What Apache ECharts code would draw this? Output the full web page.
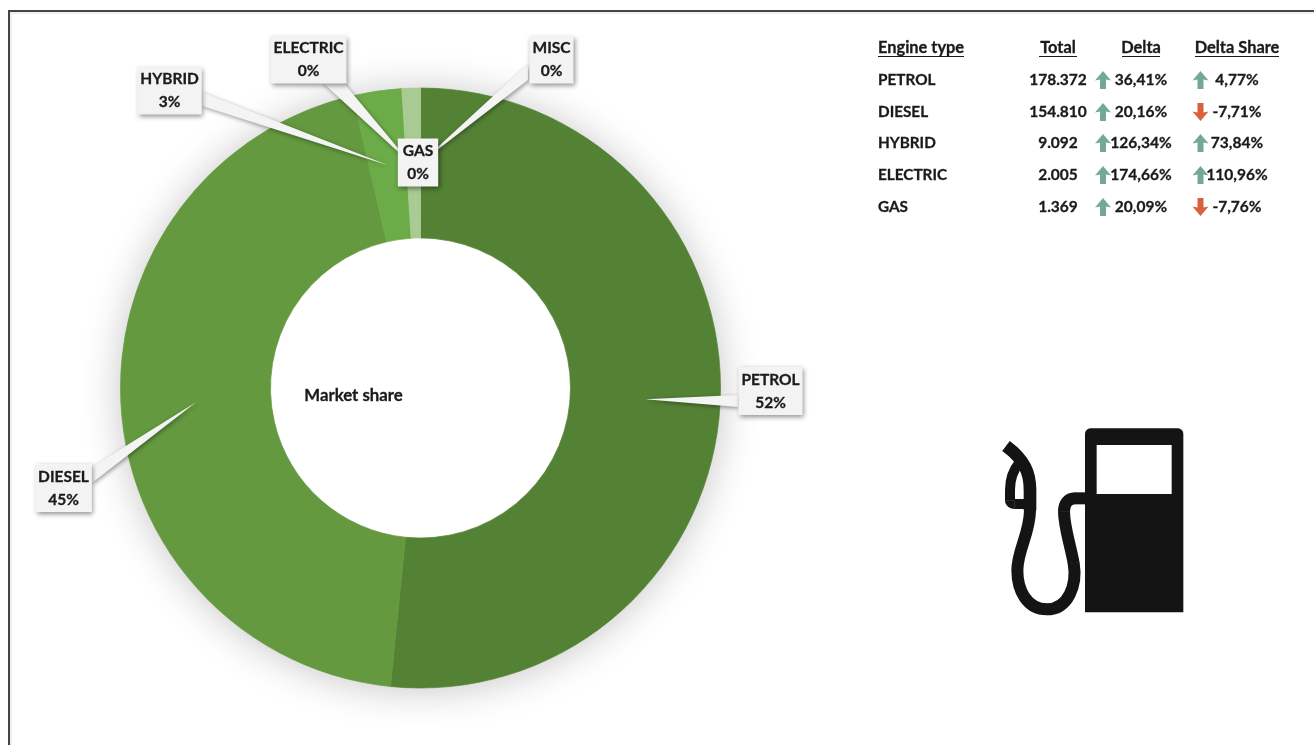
<!DOCTYPE html>
<html>
<head>
<meta charset="utf-8">
<style>html,body{margin:0;padding:0;background:#fff}#c{width:1314px;height:745px}</style>
<script src="https://cdn.jsdelivr.net/npm/echarts@6/dist/echarts.min.js"></script>
</head>
<body>
<div id="c"></div>
<script>
// ---- data ----
var sliceNames = ['PETROL', 'DIESEL', 'HYBRID', 'ELECTRIC', 'GAS', 'MISC'];
var sliceValues = [178372, 154810, 9092, 2005, 1369, 60];
var tableHeaders = ['Engine type', 'Total', 'Delta', 'Delta Share'];
var tableNames = ['PETROL', 'DIESEL', 'HYBRID', 'ELECTRIC', 'GAS'];
var tableTotals = ['178.372', '154.810', '9.092', '2.005', '1.369'];
var tableDelta = ['36,41%', '20,16%', '126,34%', '174,66%', '20,09%'];
var tableDeltaShare = ['4,77%', '-7,71%', '73,84%', '110,96%', '-7,76%'];
var centerTitle = 'Market share';

// ---- style and layout ----
var FONT = 'Lato, "Open Sans", sans-serif';
var TEXT = '#1a1a1a';
var sliceColors = ['#548235', '#64993F', '#6CAC48', '#A9CB93', '#A9CB93', '#A9CB93'];
var CX = 420.5, CY = 388, R = 300, R0 = 150;
var callouts = {
  PETROL:   {x: 770.5, y: 391, pad: 3, base: [[738, 395], [738, 407]]},
  DIESEL:   {x: 63.5,  y: 488, pad: 3, base: [[92, 467], [92, 483]]},
  HYBRID:   {x: 169.5, y: 90.5, pad: 3, base: [[202, 92], [202, 106]]},
  ELECTRIC: {x: 308.5, y: 59.5, pad: 3, base: [[322, 82], [343, 82]]},
  GAS:      {x: 418,   y: 162.5, pad: 5, base: null},
  MISC:     {x: 551.5, y: 59.5, pad: 3, base: [[528, 64], [528, 80]]}
};
var rowY = [80, 112, 143, 175, 207];
var colX = {name: 878, total: 1058, delta: 1141, share: 1237};
var arrowX = {delta: 1103, share: 1200.5};

var sum = sliceValues.reduce(function (a, b) { return a + b; }, 0);
var pieData = sliceNames.map(function (n, i) {
  return {name: n, value: sliceValues[i],
    itemStyle: {color: sliceColors[i], borderColor: sliceColors[i], borderWidth: 0.7}};
});
var labelData = sliceNames.map(function (n, i) {
  var p = callouts[n].pad;
  return {name: n, value: sliceValues[i], label: {padding: [1, p, 1, p]}};
});

function arrowPath(cx, cy, up) {
  var s = up ? 1 : -1;
  var pts = [[0, -9], [8, 0.5], [3, -0.5], [3, 9], [-3, 9], [-3, -0.5], [-8, 0.5]];
  return pts.map(function (p) { return [cx + p[0], cy + s * p[1]]; });
}

var graphics = [];
graphics.push({type: 'rect', z: 0, silent: true,
  shape: {x: 9, y: 11, width: 1400, height: 900},
  style: {fill: '#fff', stroke: '#444', lineWidth: 2}});
graphics.push({type: 'line', z: 0, silent: true, shape: {x1: 11, y1: 13, x2: 1314, y2: 13},
  style: {stroke: 'rgba(0,0,0,0.06)', lineWidth: 2}});
graphics.push({type: 'line', z: 0, silent: true, shape: {x1: 11, y1: 13, x2: 11, y2: 745},
  style: {stroke: 'rgba(0,0,0,0.06)', lineWidth: 2}});
graphics.push({type: 'circle', z: 1, silent: true,
  shape: {cx: CX, cy: CY, r: R - 1},
  style: {fill: '#fff', shadowBlur: 40, shadowColor: 'rgba(0,0,0,0.24)', shadowOffsetX: 0, shadowOffsetY: 2}});

var acc = 0;
sliceNames.forEach(function (n, i) {
  var mid = (acc + sliceValues[i] / 2) / sum * Math.PI * 2;
  acc += sliceValues[i];
  var c = callouts[n];
  if (!c.base) return;
  var rm = (R + R0) / 2;
  var tip = [CX + rm * Math.sin(mid), CY - rm * Math.cos(mid)];
  graphics.push({type: 'polygon', z: 5, silent: true,
    shape: {points: [c.base[0], c.base[1], tip]},
    style: {fill: '#f4f4f4', shadowBlur: 4, shadowColor: 'rgba(0,0,0,0.4)', shadowOffsetX: 1, shadowOffsetY: 1.5}});
});

function cell(text, x, y, align, size) {
  graphics.push({type: 'text', z: 6, x: x, y: y, silent: true,
    style: {text: text, font: 'bold ' + size + 'px ' + FONT, fill: TEXT, align: align, verticalAlign: 'middle',
            stroke: TEXT, lineWidth: 0.3}});
}
cell(centerTitle, 353.5, 396, 'center', 16.8);
var headY = 48;
[[tableHeaders[0], colX.name, 'left', 878, 964], [tableHeaders[1], colX.total, 'center', 1039, 1077],
 [tableHeaders[2], colX.delta, 'center', 1122, 1160], [tableHeaders[3], colX.share, 'center', 1195, 1279]].forEach(function (h) {
  cell(h[0], h[1], headY, h[2], 16.4);
  graphics.push({type: 'line', z: 6, silent: true, shape: {x1: h[3], y1: 56.5, x2: h[4], y2: 56.5},
    style: {stroke: TEXT, lineWidth: 1.2}});
});
tableNames.forEach(function (n, i) {
  var y = rowY[i];
  cell(n, colX.name, y, 'left', 15.3);
  cell(tableTotals[i], colX.total, y, 'center', 15.5);
  cell(tableDelta[i], colX.delta, y, 'center', 15.5);
  cell(tableDeltaShare[i], colX.share, y, 'center', 15.5);
  [[tableDelta[i], arrowX.delta], [tableDeltaShare[i], arrowX.share]].forEach(function (a) {
    var up = a[0].charAt(0) !== '-';
    graphics.push({type: 'polygon', z: 7, silent: true,
      shape: {points: arrowPath(a[1], y, up)},
      style: {fill: up ? '#73A893' : '#D8603B'}});
  });
});

// fuel pump icon, drawn in the 3x units of the crop and placed by the group
var INK = '#141414';
function curve(p) {
  return {type: 'bezierCurve', z: 6, silent: true,
    shape: {x1: p[0], y1: p[1], cpx1: p[2], cpy1: p[3], cpx2: p[4], cpy2: p[5], x2: p[6], y2: p[7]},
    style: {fill: null, stroke: INK, lineWidth: p[8] || 36, lineCap: 'butt'}};
}
graphics.push({type: 'group', z: 6, x: 980, y: 410, scaleX: 1 / 3, scaleY: 1 / 3, silent: true, children: [
  {type: 'rect', z: 6, silent: true, shape: {x: 315, y: 55, width: 295, height: 552, r: [16, 16, 0, 0]}, style: {fill: INK}},
  {type: 'rect', z: 6, silent: true, shape: {x: 350, y: 105, width: 225, height: 147}, style: {fill: '#fff'}},
  {type: 'line', z: 6, silent: true, shape: {x1: 320, y1: 265, x2: 285, y2: 265}, style: {stroke: INK, lineWidth: 36}},
  curve([286, 265, 262, 265, 252, 282, 252, 305]),
  curve([252, 304, 252, 350, 270, 400, 281, 460]),
  curve([281, 459, 292, 525, 265, 598, 200, 598]),
  curve([201, 598, 140, 598, 112, 540, 112, 480]),
  curve([112, 481, 112, 420, 150, 370, 150, 300]),
  {type: 'line', z: 6, silent: true, shape: {x1: 150, y1: 301, x2: 150, y2: 239}, style: {stroke: INK, lineWidth: 38}},
  curve([150, 240, 150, 190, 135, 150, 78, 108, 38]),
  curve([118, 158, 100, 180, 90, 205, 90, 240, 30]),
  {type: 'line', z: 6, silent: true, shape: {x1: 90, y1: 239, x2: 90, y2: 272}, style: {stroke: INK, lineWidth: 30}},
  curve([90, 271, 90, 278, 96, 282, 104, 282, 30]),
  {type: 'line', z: 6, silent: true, shape: {x1: 103, y1: 282, x2: 150, y2: 282}, style: {stroke: INK, lineWidth: 30}}
]});

var chart = echarts.init(document.getElementById('c'), null, {renderer: 'canvas'});
chart.setOption({
  animation: false,
  backgroundColor: '#fff',
  color: sliceColors,
  graphic: {elements: graphics},
  series: [
    {
      name: 'Market share',
      type: 'pie',
      z: 2,
      silent: true,
      center: [CX, CY],
      radius: [R0, R],
      startAngle: 90,
      clockwise: true,
      avoidLabelOverlap: false,
      label: {show: false},
      labelLine: {show: false},
      data: pieData
    },
    {
      name: 'Labels',
      type: 'pie',
      z: 10,
      silent: true,
      center: [CX, CY],
      radius: [R0, R],
      startAngle: 90,
      clockwise: true,
      percentPrecision: 0,
      avoidLabelOverlap: false,
      minShowLabelAngle: 0,
      itemStyle: {color: 'rgba(0,0,0,0)', borderWidth: 0},
      label: {
        show: true,
        position: 'outside',
        formatter: '{b}\n{d}%',
        fontFamily: FONT,
        fontWeight: 'bold',
        fontSize: 15.5,
        lineHeight: 23,
        color: TEXT,
        textBorderColor: TEXT,
        textBorderWidth: 0.3,
        align: 'center',
        backgroundColor: '#f3f3f3',
        shadowBlur: 5,
        shadowColor: 'rgba(0,0,0,0.45)',
        shadowOffsetX: 1.5,
        shadowOffsetY: 2
      },
      labelLine: {show: false},
      labelLayout: function (p) {
        var c = callouts[sliceNames[p.dataIndex]];
        return {x: c.x, y: c.y, align: 'center', verticalAlign: 'middle', hideOverlap: false, moveOverlap: false};
      },
      data: labelData
    }
  ]
});
</script>
</body>
</html>
